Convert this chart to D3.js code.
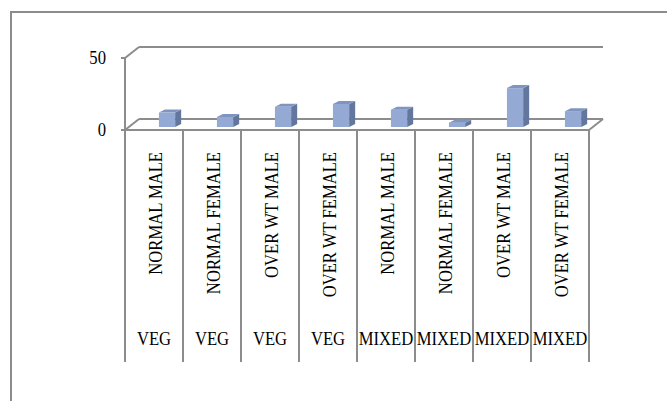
<!DOCTYPE html>
<html>
<head>
<meta charset="utf-8">
<script src="https://cdn.jsdelivr.net/npm/d3@7/dist/d3.min.js"></script>
<style>
  body { margin: 0; background: #fff; }
  text { font-family: "Liberation Serif", "Times New Roman", serif; fill: #000; }
</style>
</head>
<body>
<svg id="chart" width="667" height="401"></svg>
<script>
"use strict";

// 카테고리 (2단 라벨)
const subLabels = ["NORMAL MALE", "NORMAL FEMALE", "OVER WT MALE", "OVER WT FEMALE",
                   "NORMAL MALE", "NORMAL FEMALE", "OVER WT MALE", "OVER WT FEMALE"];
const groupLabels = ["VEG", "VEG", "VEG", "VEG", "MIXED", "MIXED", "MIXED", "MIXED"];
// 막대 값
const values = [10, 7, 14, 16, 12, 3, 27, 11];
// y축 눈금
const yTicks = [0, 50];

const svg = d3.select("#chart");
const gray = "#8c8c8c";

// 3D 깊이 오프셋
const depthX = 14, depthY = -11;
const barDX = 6, barDY = -3;

const x = d3.scaleBand().domain(d3.range(values.length)).range([125, 589]).padding(0);
const y = d3.scaleLinear().domain([0, 50]).range([130, 58]);
const bw = x.bandwidth();

// 글자를 조금 좁고 크게 (원본 글꼴 비율에 맞춤)
const fontSize = "18.5px";
const squeeze = 0.9;

// 바깥 테두리
svg.append("path")
  .attr("d", "M11,401 V12 H667")
  .attr("fill", "none").attr("stroke", gray).attr("stroke-width", 2);

const x0 = x.range()[0], x1 = x.range()[1];
const yTop = y(50), yBase = y(0);

// 뒷벽 윗선, 바닥 뒷선
svg.append("line")
  .attr("x1", x0 + depthX).attr("x2", x1 + depthX)
  .attr("y1", yTop + depthY).attr("y2", yTop + depthY)
  .attr("stroke", gray).attr("stroke-width", 2);
svg.append("line")
  .attr("x1", x0 + depthX).attr("x2", x1 + depthX)
  .attr("y1", yBase + depthY).attr("y2", yBase + depthY)
  .attr("stroke", gray).attr("stroke-width", 2);

// 대각선 (축 윗끝, 바닥 왼쪽, 바닥 오른쪽)
[[x0, yTop], [x0, yBase], [x1, yBase]].forEach(([px, py]) => {
  svg.append("line")
    .attr("x1", px).attr("y1", py)
    .attr("x2", px + depthX).attr("y2", py + depthY)
    .attr("stroke", gray).attr("stroke-width", 2);
});

// 막대
const barW = bw * 0.28;
const bars = svg.append("g").selectAll("g").data(values).enter().append("g");
const fx = (d, i) => x(i) + bw * 0.585;
const baseY = yBase - 3;

bars.append("rect") // 앞면
  .attr("x", fx)
  .attr("y", (d) => y(d) - 3)
  .attr("width", barW)
  .attr("height", (d) => baseY - (y(d) - 3))
  .attr("fill", "#94aad5");
bars.append("path") // 옆면
  .attr("d", (d, i) => {
    const l = fx(d, i) + barW, t = y(d) - 3;
    return `M${l},${t} l${barDX},${barDY} V${baseY + barDY} l${-barDX},${-barDY} Z`;
  })
  .attr("fill", "#62769e");
bars.append("path") // 윗면
  .attr("d", (d, i) => {
    const l = fx(d, i), t = y(d) - 3;
    return `M${l},${t} l${barDX},${barDY} h${barW} l${-barDX},${-barDY} Z`;
  })
  .attr("fill", "#7f95c0");

// 바닥 앞선
svg.append("line")
  .attr("x1", x0).attr("x2", x1)
  .attr("y1", yBase).attr("y2", yBase)
  .attr("stroke", gray).attr("stroke-width", 2);

// y축
svg.append("line")
  .attr("x1", x0).attr("x2", x0)
  .attr("y1", yTop).attr("y2", 362)
  .attr("stroke", gray).attr("stroke-width", 2);
svg.selectAll(".tick").data(yTicks).enter().append("line")
  .attr("x1", x0 - 4).attr("x2", x0)
  .attr("y1", (d) => y(d)).attr("y2", (d) => y(d))
  .attr("stroke", gray).attr("stroke-width", 2);
svg.selectAll(".ylab").data(yTicks).enter().append("text")
  .attr("transform", (d) => `translate(106,${y(d) + 6}) scale(${squeeze},1)`)
  .attr("text-anchor", "end")
  .style("font-size", fontSize)
  .text((d) => d);

// 카테고리 구분선
svg.selectAll(".div").data(d3.range(1, values.length + 1)).enter().append("line")
  .attr("x1", (d) => x0 + d * bw).attr("x2", (d) => x0 + d * bw)
  .attr("y1", yBase).attr("y2", 362)
  .attr("stroke", gray).attr("stroke-width", 2);

// 세로 라벨
svg.selectAll(".sub").data(subLabels).enter().append("text")
  .attr("transform", (d, i) => `translate(${x(i) + bw / 2 + 8},152) rotate(-90) scale(${squeeze},1)`)
  .attr("text-anchor", "end")
  .style("font-size", fontSize)
  .text((d) => d);

// 그룹 라벨
svg.selectAll(".grp").data(groupLabels).enter().append("text")
  .attr("transform", (d, i) => `translate(${x(i) + bw / 2},345) scale(${squeeze},1)`)
  .attr("text-anchor", "middle")
  .style("font-size", fontSize)
  .text((d) => d);
</script>
</body>
</html>
